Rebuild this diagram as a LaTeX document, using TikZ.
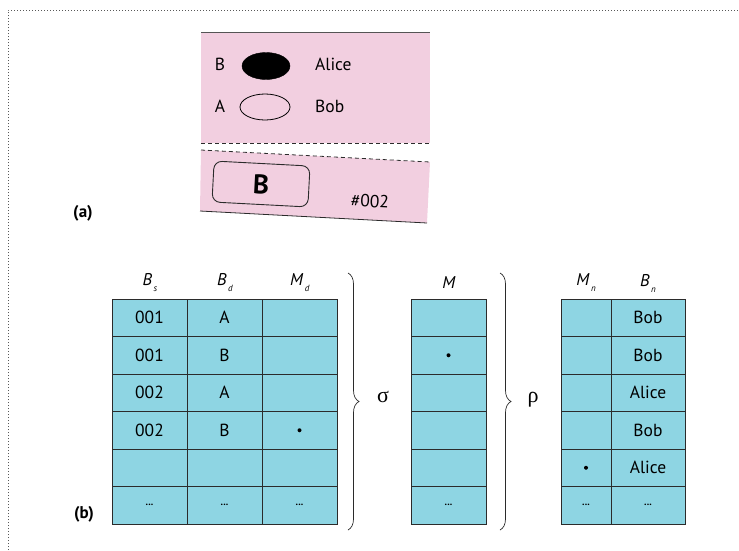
\documentclass[tikz,border=0pt]{standalone}
\usepackage{fontspec}
\setmainfont{PT Sans}
\newfontfamily\grk{Liberation Serif}
\usetikzlibrary{decorations.pathreplacing,shapes.geometric}
\definecolor{pinkfill}{HTML}{F2CFE0}
\definecolor{cyanfill}{HTML}{8ED5E3}
\definecolor{edge}{HTML}{2B2B2B}
\newcommand\hsub[2]{\textit{#1}\raisebox{-0.7ex}{\kern1.5pt\fontsize{9}{9}\selectfont\textit{#2}}}
\newcommand\dd{{\fontsize{10}{10}\selectfont\textbf{...}}}
\tikzset{
  cell/.style={draw=edge, fill=cyanfill, line width=0.9pt, minimum width=75pt,
    minimum height=37.5pt, inner sep=0pt, font=\fontsize{17.5}{19}\selectfont},
  ncell/.style={cell, minimum width=50pt},
  wcell/.style={cell, minimum width=74pt},
  hdr/.style={font=\fontsize{17}{19}\selectfont},
  lbl/.style={font=\fontsize{17}{19}\selectfont\bfseries},
  txt/.style={font=\fontsize{17.5}{19}\selectfont, inner sep=0pt},
  dotm/.style={circle, fill=black, inner sep=0pt, minimum size=4pt},
  brc/.style={draw=edge, line width=0.7pt, decorate, decoration={brace, amplitude=11pt}},
  greek/.style={font=\fontsize{22}{24}\selectfont\grk},
  pdash/.style={draw=edge, line width=0.8pt, dash pattern=on 4pt off 3pt},
}
\begin{document}
\begin{tikzpicture}[x=1pt,y=-1pt]
\useasboundingbox (0,0) rectangle (739,550);
% outer dotted frame
\draw[black!65, dotted, line width=1pt] (8,550) -- (8,10) -- (739,10);

% ---- (a) ----
\fill[pinkfill] (201,32) rectangle (430,143);
\draw[edge!80, line width=0.8pt] (201,32) -- (430,32);
\draw[pdash] (201,143) -- (430,143);
\fill[pinkfill] (201,150) -- (430,162) -- (427,223) -- (200,211) -- cycle;
\draw[pdash] (201,150) -- (430,162);
\draw[edge, line width=0.8pt] (200,211) -- (427,223);

\node[txt] (tB) at (220,64) {B};
\node[ellipse, fill=black, draw=black, minimum width=48pt, minimum height=27pt, inner sep=0pt] (e1) at (266,66) {};
\node[txt, anchor=west] (tAlice) at (315,64) {Alice};
\node[txt] (tA) at (220,106) {A};
\node[ellipse, draw=black, line width=0.8pt, minimum width=50pt, minimum height=26pt, inner sep=0pt] (e2) at (265,107) {};
\node[txt, anchor=west] (tBob) at (315,106) {Bob};

\node[draw=edge, line width=0.9pt, rounded corners=8pt, rotate=-3, minimum width=96pt,
      minimum height=41pt, inner sep=0pt, font=\fontsize{27}{29}\selectfont\bfseries] (bx) at (261,184) {B};
\node[txt, rotate=-3] (num) at (370,201) {\#002};

\node[lbl] (la) at (83,213) {(a)};
\node[lbl] (lb) at (84,514) {(b)};

% ---- (b) headers ----
\node[hdr] (hBs) at (150,283) {\hsub{B}{s}};
\node[hdr] (hBd) at (225,283) {\hsub{B}{d}};
\node[hdr] (hMd) at (300,283) {\hsub{M}{d}};
\node[hdr] (hM) at (449,283) {\textit{M}};
\node[hdr] (hMn) at (586,283) {\hsub{M}{n}};
\node[hdr] (hBn) at (648,283) {\hsub{B}{n}};

% left table
\node[cell] (L11) at (149.5,317.75) {001};
\node[cell] (L12) at (224.5,317.75) {A};
\node[cell] (L13) at (299.5,317.75) {};
\node[cell] (L21) at (149.5,355.25) {001};
\node[cell] (L22) at (224.5,355.25) {B};
\node[cell] (L23) at (299.5,355.25) {};
\node[cell] (L31) at (149.5,392.75) {002};
\node[cell] (L32) at (224.5,392.75) {A};
\node[cell] (L33) at (299.5,392.75) {};
\node[cell] (L41) at (149.5,430.25) {002};
\node[cell] (L42) at (224.5,430.25) {B};
\node[cell] (L43) at (299.5,430.25) {};
\node[cell] (L51) at (149.5,467.75) {};
\node[cell] (L52) at (224.5,467.75) {};
\node[cell] (L53) at (299.5,467.75) {};
\node[cell] (L61) at (149.5,505.25) {\dd};
\node[cell] (L62) at (224.5,505.25) {\dd};
\node[cell] (L63) at (299.5,505.25) {\dd};
\node[dotm] (d1) at (L43) {};

% middle table
\node[cell] (M1) at (448.5,317.75) {};
\node[cell] (M2) at (448.5,355.25) {};
\node[cell] (M3) at (448.5,392.75) {};
\node[cell] (M4) at (448.5,430.25) {};
\node[cell] (M5) at (448.5,467.75) {};
\node[cell] (M6) at (448.5,505.25) {\dd};
\node[dotm] (d2) at (M2) {};

% right table
\node[ncell] (R11) at (586,317.75) {};
\node[wcell] (R12) at (648,317.75) {Bob};
\node[ncell] (R21) at (586,355.25) {};
\node[wcell] (R22) at (648,355.25) {Bob};
\node[ncell] (R31) at (586,392.75) {};
\node[wcell] (R32) at (648,392.75) {Alice};
\node[ncell] (R41) at (586,430.25) {};
\node[wcell] (R42) at (648,430.25) {Bob};
\node[ncell] (R51) at (586,467.75) {};
\node[wcell] (R52) at (648,467.75) {Alice};
\node[ncell] (R61) at (586,505.25) {\dd};
\node[wcell] (R62) at (648,505.25) {\dd};
\node[dotm] (d3) at (R51) {};

% braces
\draw[brc] (348,273) -- (348,530);
\draw[brc] (500,273) -- (500,530);
\node[greek] (sig) at (383,397) {σ};
\node[greek] (rho) at (533,400) {ρ};
\end{tikzpicture}
\end{document}
